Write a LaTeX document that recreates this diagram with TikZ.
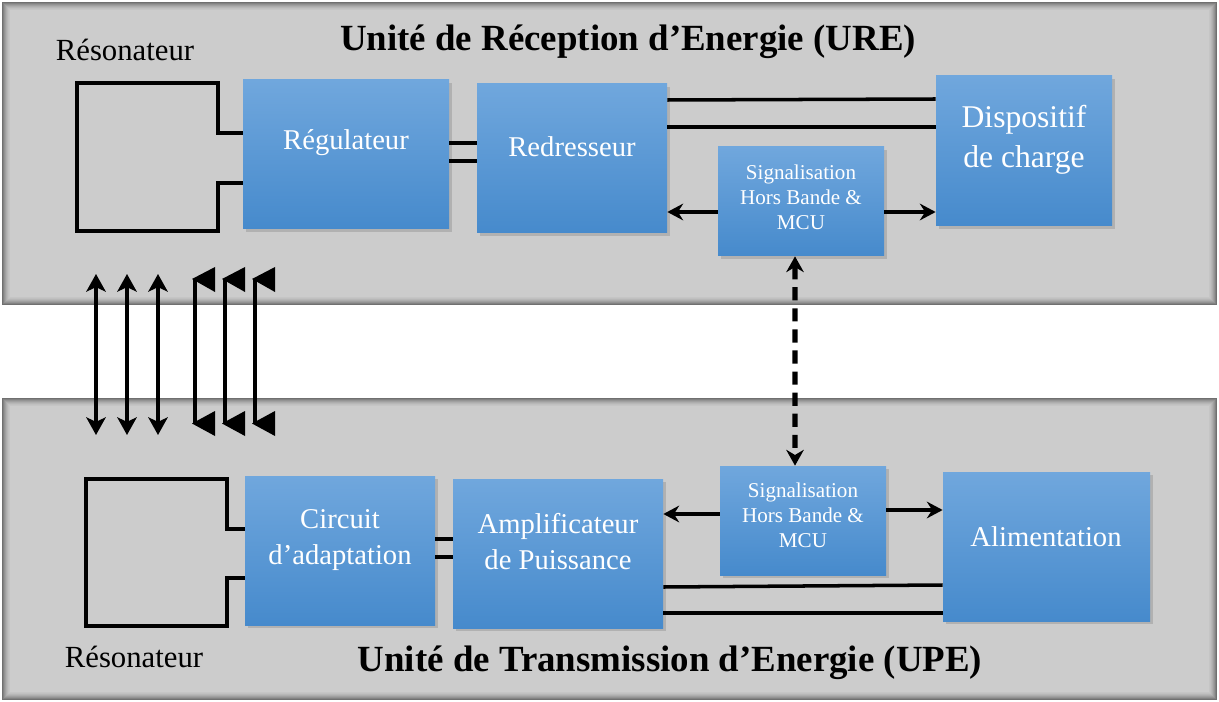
\documentclass[tikz,border=0pt]{standalone}
\usepackage{fontspec}
\setmainfont{Liberation Serif}
\usetikzlibrary{arrows.meta,shadows,fit}

\definecolor{panelgray}{RGB}{204,204,204}
\definecolor{blktop}{RGB}{112,167,221}
\definecolor{blkbot}{RGB}{70,138,204}

\begin{document}
\begin{tikzpicture}[x=0.02cm, y=-0.02cm,
	blk/.style = {inner sep=0pt, draw=none, top color=blktop, bottom color=blkbot,
		drop shadow={shadow xshift=1.5pt, shadow yshift=-1.5pt, opacity=0.35}},
	blktext/.style = {text=white, align=center, font=\fontsize{16.3}{20.5}\selectfont},
	sigtext/.style = {text=white, align=center, font=\fontsize{12}{14.3}\selectfont},
	title/.style = {font=\fontsize{21}{25}\selectfont\bfseries},
	reso/.style = {font=\fontsize{17.5}{21}\selectfont},
	wire/.style = {line width=2pt},
	sigarrow/.style = {line width=2pt, -{Stealth[length=9pt,width=9.5pt,inset=3pt]}},
	dasharrow/.style = {line width=3pt, dash pattern=on 7.5pt off 4.5pt,
		{Stealth[length=9pt,width=10pt]}-{Stealth[length=9pt,width=10pt]}},
	dblarrow/.style = {line width=2.6pt, {Stealth[length=10pt,width=11pt,inset=2.5pt]}-{Stealth[length=10pt,width=11pt,inset=2.5pt]}}]

	\useasboundingbox (0,0) rectangle (1219,702);
	\fill[white] (0,0) rectangle (1219,702);

	\foreach \ya/\yb in {2/305, 398/700}{
		\fill[panelgray] (2,\ya) rectangle (1217,\yb);
		\foreach \k/\o in {0/0.45,1/0.36,2/0.28,3/0.21,4/0.15,5/0.1,6/0.06,7/0.03}
			\draw[black, opacity=\o, line width=0.02cm] (2.5+\k,\ya+0.5+\k) rectangle (1216.5-\k,\yb-0.5-\k);
	}

	\node[title] (ure) at (628,42) {Unité de Réception d’Energie (URE)};
	\node[title] (upe) at (670,663) {Unité de Transmission d’Energie (UPE)};
	\node[reso] (resoR) at (125,50) {Résonateur};
	\node[reso] (resoT) at (134,657) {Résonateur};

	\node[blk, fit={(243,80) (449,229)}] (reg) {};
	\node[blk, fit={(477,84) (667,233)}] (red) {};
	\node[blk, fit={(718,147) (884,256)}] (sigR) {};
	\node[blk, fit={(936,76) (1112,226)}] (dis) {};
	\node[blk, fit={(245,476) (435,625)}] (cir) {};
	\node[blk, fit={(453,479) (663,628)}] (amp) {};
	\node[blk, fit={(720,466) (886,575)}] (sigT) {};
	\node[blk, fit={(943,472) (1150,621)}] (alim) {};

	\node[blktext] (regtxt) at (346,143) {Régulateur};
	\node[blktext] (redtxt) at (572,147) {Redresseur};
	\node[sigtext] (sigRtxt) at (801,197) {Signalisation\\Hors Bande \&\\MCU};
	\node[blktext, font=\fontsize{18}{22.7}\selectfont] (distxt) at (1024,140) {Dispositif\\de charge};
	\node[blktext] (cirtxt) at (340,540) {Circuit\\d’adaptation};
	\node[blktext] (amptxt) at (558,542) {Amplificateur\\de Puissance};
	\node[sigtext] (sigTtxt) at (803,515) {Signalisation\\Hors Bande \&\\MCU};
	\node[blktext] (alimtxt) at (1046,537) {Alimentation};

	\draw[wire] (reg.west |- 0,133) -- (218,133) -- (218,83) -- (77,83) -- (77,231) -- (218,231) -- (218,183) -- (reg.west |- 0,183);
	\draw[wire] (reg.east |- 0,143) -- (red.west |- 0,143);
	\draw[wire] (reg.east |- 0,161) -- (red.west |- 0,161);
	\draw[wire] (red.east |- 0,100) -- (dis.west |- 0,99);
	\draw[wire] (red.east |- 0,127) -- (dis.west |- 0,127);
	\draw[sigarrow] (sigR.west |- 0,212) -- (red.east |- 0,212);
	\draw[sigarrow] (sigR.east |- 0,212) -- (dis.west |- 0,212);

	\draw[wire] (cir.west |- 0,529) -- (227,529) -- (227,479) -- (86,479) -- (86,626) -- (227,626) -- (227,578) -- (cir.west |- 0,578);
	\draw[wire] (cir.east |- 0,539) -- (amp.west |- 0,539);
	\draw[wire] (cir.east |- 0,557) -- (amp.west |- 0,557);
	\draw[wire] (amp.east |- 0,587) -- (alim.west |- 0,585);
	\draw[wire] (amp.east |- 0,613) -- (alim.west |- 0,613);
	\draw[sigarrow] (sigT.west |- 0,514) -- (amp.east |- 0,514);
	\draw[sigarrow] (sigT.east |- 0,510) -- (alim.west |- 0,510);

	\draw[dasharrow] ([xshift=-1.2mm]sigR.south) -- ([xshift=-1.6mm]sigT.north);

	\foreach \x in {96,127,158}
		\draw[dblarrow] (\x,274) -- (\x,435);
	\foreach \dx in {0,30,60}{
		\fill (192+\dx,279) -- (215+\dx,267) -- (215+\dx,292) -- cycle;
		\fill (192+\dx,423.5) -- (215+\dx,411) -- (215+\dx,436) -- cycle;
		\draw[line width=2.4pt] (195+\dx,279) -- (195+\dx,424);
	}
\end{tikzpicture}
\end{document}
